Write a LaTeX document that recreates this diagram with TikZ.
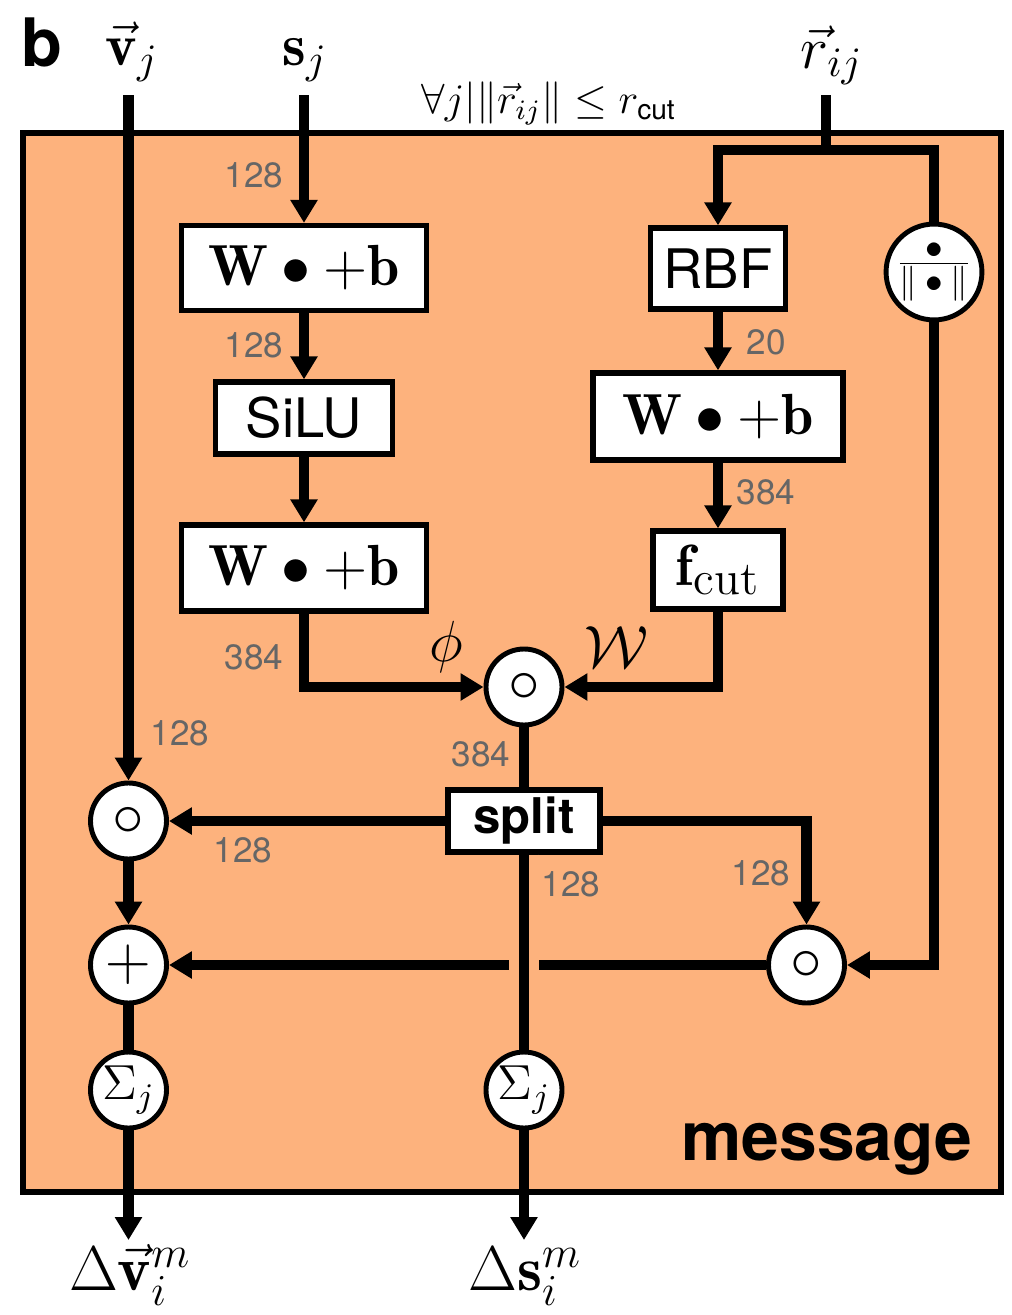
\documentclass[tikz,border=0pt]{standalone}
\usepackage{fix-cm}
\usepackage{fontspec}
\setsansfont{TeX Gyre Heros}
\usetikzlibrary{arrows.meta}
\definecolor{msgOrange}{RGB}{253,178,125}
\definecolor{dimGray}{RGB}{102,102,102}

\begin{document}
\begin{tikzpicture}[
    x=0.1mm, y=-0.1mm,
    box/.style={rectangle, draw, fill=white, line width=1.5pt, inner sep=0pt, font=\fontsize{16.5}{18}\selectfont},
    op/.style={circle, draw, fill=white, line width=1.4pt, minimum size=7.6mm, inner sep=0pt},
    flow/.style={line width=3.1pt},
    arr/.style={-{Triangle[length=2.3mm, width=2.6mm]}},
    dim/.style={text=dimGray, font=\sffamily\fontsize{10}{12}\selectfont},
    sym/.style={anchor=base, font=\fontsize{17}{18}\selectfont}
]
\useasboundingbox (0,0) rectangle (1011,1315);
\draw[fill=msgOrange, line width=1.7pt] (23,133) rectangle (1001,1192);

\node[anchor=center, font=\sffamily\bfseries\fontsize{19}{22}\selectfont] (tag) at (42,42) {b};
\node[sym] (vj) at (132,65) {$\vec{\mathbf{v}}_j$};
\node[sym] (sj) at (305,65) {$\mathbf{s}_j$};
\node[sym] (rij) at (832,68) {$\vec{r}_{ij}$};
\node[anchor=base, font=\fontsize{12}{13}\selectfont] (cond) at (549,113) {$\forall j | \|\vec{r}_{ij}\| \leq r_{\mathsf{cut}}$};
\node[anchor=base east, inner sep=0pt, font=\sffamily\bfseries\fontsize{19.3}{22}\selectfont] (msg) at (973,1160) {message};

\coordinate (vin) at (128.5,95);
\coordinate (sin) at (304,95);
\coordinate (rin) at (826,95);
\coordinate (rsplit) at (826,150);
\coordinate (dvend) at (128.5,1240);
\coordinate (dsend) at (524,1240);

\node[box, minimum width=24.5mm, minimum height=8.5mm] (lin1) at (304,268) {$\mathbf{W}\bullet+\mathbf{b}$};
\node[box, font=\sffamily\fontsize{15.5}{18}\selectfont, minimum width=17.7mm, minimum height=7.2mm] (silu) at (304,418) {SiLU};
\node[box, minimum width=24.5mm, minimum height=8.6mm] (lin2) at (304,568) {$\mathbf{W}\bullet+\mathbf{b}$};
\node[box, font=\sffamily\fontsize{15.5}{18}\selectfont, minimum width=13.5mm, minimum height=8.1mm] (rbf) at (718,268.5) {RBF};
\node[box, minimum width=25mm, minimum height=8.7mm] (lin3) at (718,416.5) {$\mathbf{W}\bullet+\mathbf{b}$};
\node[box, font=\fontsize{16.5}{18}\selectfont, minimum width=13mm, minimum height=7.8mm] (fcut) at (718,570) {$\mathbf{f}_{\mbox{\fontsize{13.5}{15}\selectfont cut}}$};
\node[box, font=\sffamily\bfseries\fontsize{14}{16}\selectfont, minimum width=15.2mm, minimum height=6.2mm] (split) at (524,821) {split};

\node[op, font=\fontsize{18}{18}\selectfont] (had) at (524,687) {$\circ$};
\node[op, minimum size=8.6mm, font=\fontsize{10}{12}\selectfont] (norm) at (934,272) {$\frac{\textstyle\bullet}{\textstyle\|\bullet\|}$};
\node[op, font=\fontsize{18}{18}\selectfont] (mulv) at (128.5,821) {$\circ$};
\node[op, font=\fontsize{18}{18}\selectfont] (mulr) at (806.5,965) {$\circ$};
\node[op, font=\fontsize{18}{18}\selectfont] (plus) at (128.5,965) {$+$};
\node[op, font=\fontsize{14}{16}\selectfont] (sumv) at (128.5,1090) {$\Sigma_j$};
\node[op, font=\fontsize{14}{16}\selectfont] (sums) at (524,1090) {$\Sigma_j$};

\node[dim] (n1) at (254,175) {128};
\node[dim] (n2) at (254,345) {128};
\node[dim] (n3) at (254,657) {384};
\node[dim] (n4) at (766,342) {20};
\node[dim] (n5) at (766,492) {384};
\node[dim] (n6) at (180,733) {128};
\node[dim] (n7) at (481,754) {384};
\node[dim] (n8) at (243,850) {128};
\node[dim] (n9) at (571,884) {128};
\node[dim] (n10) at (761,873) {128};
\node[font=\fontsize{16.5}{18}\selectfont] (phi) at (446,647) {$\phi$};
\node[font=\fontsize{17}{18}\selectfont] (wfil) at (616,647) {$\mathcal{W}$};

\draw[flow, arr] (sin) -- (lin1);
\draw[flow, arr] (lin1) -- (silu);
\draw[flow, arr] (silu) -- (lin2);
\draw[flow, arr] (lin2) |- (had);
\draw[flow] (rin) -- (rsplit);
\draw[flow, arr] (rsplit) -| (rbf);
\draw[flow] (rsplit) -| (norm);
\draw[flow, arr] (rbf) -- (lin3);
\draw[flow, arr] (lin3) -- (fcut);
\draw[flow, arr] (fcut) |- (had);
\draw[flow] (had) -- (split);
\draw[flow, arr] (split) -- (mulv);
\draw[flow, arr] (split) -| (mulr);
\draw[flow, arr] (norm) |- (mulr);
\draw[flow, arr] (vin) -- (mulv);
\draw[flow, arr] (mulv) -- (plus);
\draw[flow, arr] (mulr) -- (plus);
\draw[flow] (plus) -- (sumv);
\draw[flow, arr] (sumv) -- (dvend);
\draw[flow, preaction={draw, msgOrange, line width=3mm}] (split) -- (sums);
\draw[flow, arr] (sums) -- (dsend);

\node[anchor=base, font=\fontsize{18}{20}\selectfont] (dv) at (130,1290) {$\Delta\vec{\mathbf{v}}_i^m$};
\node[anchor=base, font=\fontsize{18}{20}\selectfont] (ds) at (525,1290) {$\Delta\mathbf{s}_i^m$};
\end{tikzpicture}
\end{document}
